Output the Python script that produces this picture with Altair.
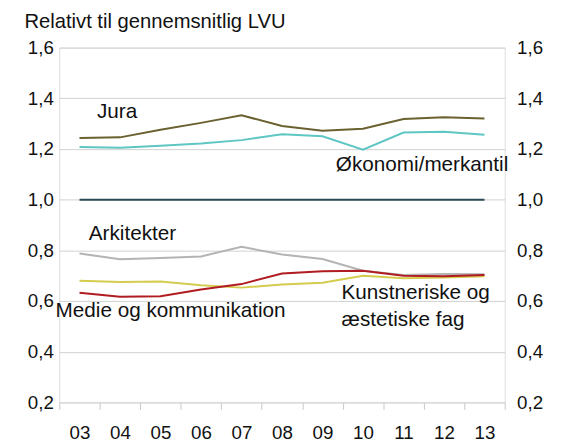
import altair as alt
import pandas as pd

FONT = "Liberation Sans"

years = ["03", "04", "05", "06", "07", "08", "09", "10", "11", "12", "13"]
series_names = ["Arkitekter", "Kunstneriske og æstetiske fag", "Medie og kommunikation",
                "LVU", "Økonomi/merkantil", "Jura"]
series_colors = ["#b4b4b4", "#d4cc4e", "#b01c22", "#2c4a56", "#5ec6c3", "#6b6130"]

jura = [1.243, 1.246, 1.276, 1.303, 1.333, 1.291, 1.272, 1.280, 1.318, 1.325, 1.320]
okonomi = [1.208, 1.205, 1.213, 1.222, 1.235, 1.258, 1.250, 1.197, 1.265, 1.268, 1.256]
lvu = [1.0, 1.0, 1.0, 1.0, 1.0, 1.0, 1.0, 1.0, 1.0, 1.0, 1.0]
arkitekter = [0.788, 0.765, 0.770, 0.776, 0.814, 0.784, 0.766, 0.720, 0.703, 0.707, 0.706]
medie = [0.633, 0.617, 0.619, 0.646, 0.667, 0.709, 0.718, 0.720, 0.700, 0.698, 0.703]
kunst = [0.680, 0.675, 0.677, 0.662, 0.653, 0.665, 0.672, 0.700, 0.690, 0.693, 0.698]

y_ticks = [0.2, 0.4, 0.6, 0.8, 1.0, 1.2, 1.4, 1.6]

label_texts = ["Relativt til gennemsnitlig LVU", "Jura", "Økonomi/merkantil", "Arkitekter",
               "Medie og kommunikation", "Kunstneriske og", "æstetiske fag"]
label_x = [1.64, 3.43, 9.33, 3.23, 2.41, 9.47, 9.47]
label_y = [1.677, 1.321, 1.114, 0.839, 0.536, 0.607, 0.502]
label_size = [20.5, 21, 21, 21, 21, 21, 21]

values_by_series = {
    "Arkitekter": arkitekter,
    "Kunstneriske og æstetiske fag": kunst,
    "Medie og kommunikation": medie,
    "LVU": lvu,
    "Økonomi/merkantil": okonomi,
    "Jura": jura,
}
rows = []
for i, name in enumerate(series_names):
    for yr, v in zip(years, values_by_series[name]):
        rows.append({"series": name, "year": yr, "value": v, "ord": i})
df = pd.DataFrame(rows)

lab_df = pd.DataFrame({"label": label_texts, "lx": label_x, "ly": label_y, "fs": label_size})

label_expr = "replace(format(datum.value, '.1f'), '.', ',')"
y_scale = alt.Scale(domain=[0.2, 1.6], nice=False, zero=False)
x_scale = alt.Scale(type="band", domain=years, paddingInner=0, paddingOuter=0)

lines = alt.Chart(df).mark_line(strokeWidth=2).encode(
    x=alt.X("year:O", scale=x_scale, bandPosition=0.5,
            axis=alt.Axis(title=None, tickBand="extent", tickSize=7, tickColor="#c8c8c8",
                          domain=False, grid=False, labelAngle=0, labelFontSize=19,
                          labelFont=FONT, labelColor="#111111", labelPadding=15)),
    y=alt.Y("value:Q", scale=y_scale,
            axis=alt.Axis(title=None, values=y_ticks, labelExpr=label_expr, grid=True,
                          gridColor="#d0d0d0", gridWidth=1, ticks=False, domain=False,
                          labelPadding=6, labelFontSize=19, labelFont=FONT,
                          labelColor="#111111")),
    color=alt.Color("series:N", scale=alt.Scale(domain=series_names, range=series_colors),
                    legend=None),
    order=alt.Order("ord:Q"),
)

right_axis = alt.Chart(df).mark_line(opacity=0).encode(
    x=alt.X("year:O", scale=x_scale, axis=None),
    y=alt.Y("value:Q", scale=y_scale,
            axis=alt.Axis(title=None, orient="right", values=y_ticks, labelExpr=label_expr,
                          grid=False, ticks=False, domain=False, labelPadding=12,
                          labelFontSize=19, labelFont=FONT, labelColor="#111111")),
    detail="series:N",
)

texts = alt.Chart(lab_df).mark_text(align="left", baseline="alphabetic",
                                    font=FONT, color="#111111").encode(
    x=alt.X("lx:Q", scale=alt.Scale(domain=[2.5, 13.5], nice=False, zero=False), axis=None),
    y=alt.Y("ly:Q", scale=alt.Scale(domain=[0.2, 1.6], nice=False, zero=False), axis=None),
    size=alt.Size("fs:Q", scale=None, legend=None),
    text="label:N",
)

chart = alt.layer(lines, right_axis, texts).resolve_scale(
    x="independent", y="independent"
).properties(
    width=452, height=360,
    autosize=alt.AutoSizeParams(type="none"),
    padding={"left": 52, "top": 37, "right": 51, "bottom": 42},
).configure_view(stroke=None).configure(background="white")

chart.save("out.html", embed_options={"renderer": "svg", "actions": False})
